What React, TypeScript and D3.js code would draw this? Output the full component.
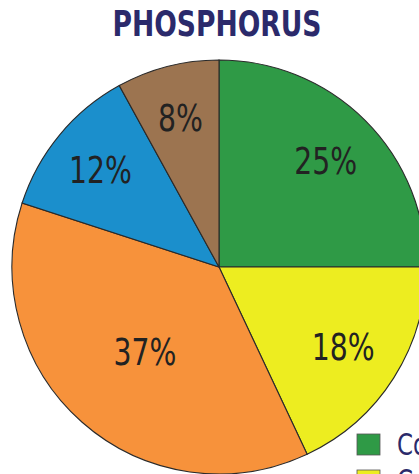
import React from "react";
import * as d3 from "d3";

const title = "PHOSPHORUS";
const categories = ["Commercial fertilizer", "Crop", "Manure", "Other", "Atmosphere"];
const values = [25, 18, 37, 12, 8];
const colors = ["#2f9a46", "#eded20", "#f7923b", "#1b8fcc", "#9c7450"];
const labelRadii = [151, 147, 112, 154, 155];
const legendItems = ["Commercial fertilizer", "Crop residue"];
const legendColors = ["#2f9a46", "#eded20"];

const W = 419;
const H = 474;
const cx = 219;
const cy = 267;
const R = 207;

export default function App() {
  const pie = d3.pie<number>().sort(null).value((d) => d);
  const arcs = pie(values);
  const arcGen = d3.arc<d3.PieArcDatum<number>>().innerRadius(0).outerRadius(R);
  const cond = "'Liberation Sans Narrow', 'DejaVu Sans Condensed', 'Roboto Condensed', sans-serif";
  return (
    <svg width={W} height={H} style={{ position: "absolute", left: 0, top: 0, background: "#fff" }}>
      <text x={217} y={36} textAnchor="middle" fontFamily={cond} fontWeight="bold" fontSize={36} fill="#2b2a6b" textLength={209} lengthAdjust="spacingAndGlyphs">
        {title}
      </text>
      <g transform={`translate(${cx},${cy})`}>
        {arcs.map((a, i) => (
          <path key={categories[i]} d={arcGen(a) || ""} fill={colors[i]} stroke="#2a2a2a" strokeWidth={1.1} />
        ))}
        {arcs.map((a, i) => {
          const m = (a.startAngle + a.endAngle) / 2;
          const r = labelRadii[i];
          const x = Math.sin(m) * r;
          const y = -Math.cos(m) * r;
          return (
            <g key={"l" + i} transform={`translate(${x},${y}) scale(0.85,1)`}>
              <text x={0} y={0} dy="0.38em" textAnchor="middle" fontFamily={cond} fontSize={37} fill="#222">
                {values[i]}%
              </text>
            </g>
          );
        })}
      </g>
      {legendItems.map((t, i) => (
        <g key={t} transform={`translate(357,${434 + i * 36})`}>
          <rect width={23} height={21} fill={legendColors[i]} stroke="#555" strokeWidth={0.8} />
          <g transform="translate(40,21) scale(0.85,1)">
            <text x={0} y={0} fontFamily={cond} fontSize={30} fill="#2b2a6b">{t}</text>
          </g>
        </g>
      ))}
    </svg>
  );
}
